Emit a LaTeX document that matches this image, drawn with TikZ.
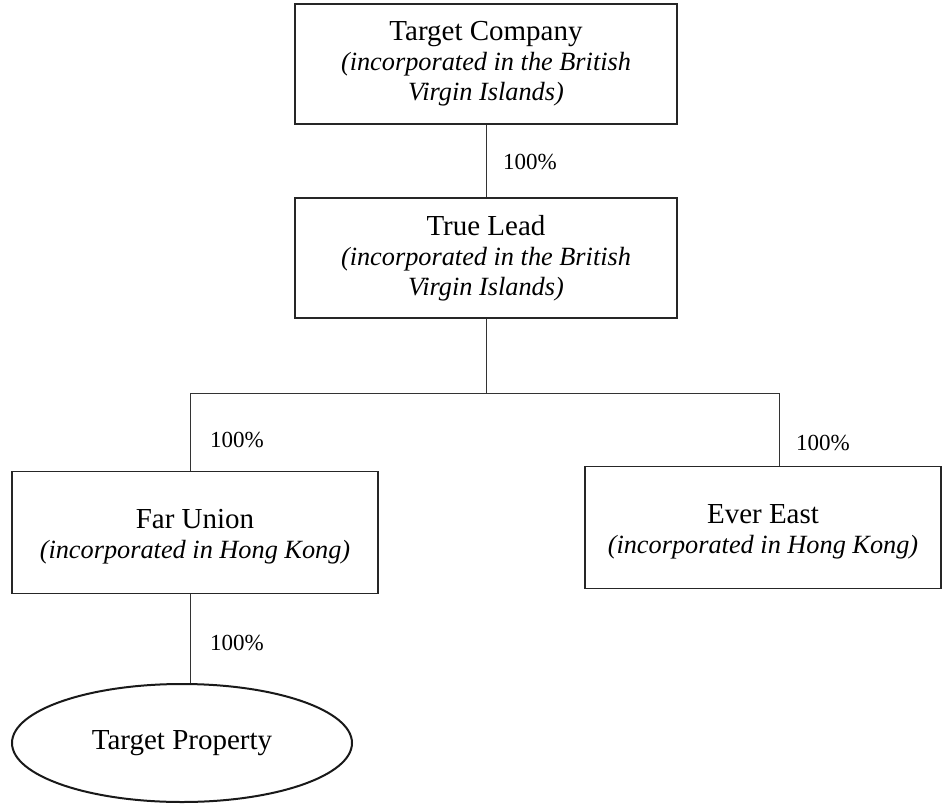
\documentclass[tikz,border=0pt]{standalone}
\usepackage{fontspec}
\setmainfont{Liberation Serif}
\usetikzlibrary{shapes.geometric}
\newcommand{\itsub}{\fontsize{26.3}{30}\selectfont\itshape}
\newcommand{\lowstrut}{\rule{0pt}{27.6pt}}
\begin{document}
\begin{tikzpicture}[x=1pt,y=-1pt,
  box/.style={draw=black!85, line width=1.1pt, rectangle, inner sep=0pt, align=center, font=\fontsize{29}{30}\selectfont},
  oval/.style={draw=black!90, line width=2pt, ellipse, inner sep=0pt, align=center, font=\fontsize{29}{30}\selectfont},
  pct/.style={inner sep=0pt, font=\fontsize{23}{24}\selectfont},
  link/.style={draw=black!80, line width=1pt}]
\useasboundingbox (0,0) rectangle (942,803);
\node[box, minimum width=382pt, minimum height=120pt] (TC) at (486,64)
  {Target Company\\{\itsub (incorporated in the British}\\{\itsub Virgin Islands)}};
\node[box, minimum width=382pt, minimum height=120pt] (TL) at (486,258)
  {True Lead\\{\itsub (incorporated in the British}\\{\itsub Virgin Islands)}};
\node[box, minimum width=366pt, minimum height=122pt] (FU) at (195,532.5)
  {\lowstrut Far Union\\{\itsub (incorporated in Hong Kong)}};
\node[box, minimum width=356pt, minimum height=122pt] (EE) at (763,527.3)
  {\lowstrut Ever East\\{\itsub (incorporated in Hong Kong)}};
\node[oval, minimum width=340pt, minimum height=118pt] (TP) at (182,743)
  {Target Property};
\coordinate (busC) at (486,393);
\coordinate (busL) at (190,393);
\coordinate (busR) at (779,393);
\draw[link] (TC.south) -- (TL.north);
\draw[link] (TL.south) -- (busC);
\draw[link] (busL) -- (busR);
\draw[link] (busL) -- (busL |- FU.north);
\draw[link] (busR) -- (busR |- EE.north);
\draw[link] (busL |- FU.south) -- (busL |- TP.north);
\node[pct] (p1) at (530,162) {100\%};
\node[pct] (p2) at (237,440) {100\%};
\node[pct] (p3) at (823,443) {100\%};
\node[pct] (p4) at (237,643) {100\%};
\end{tikzpicture}
\end{document}
